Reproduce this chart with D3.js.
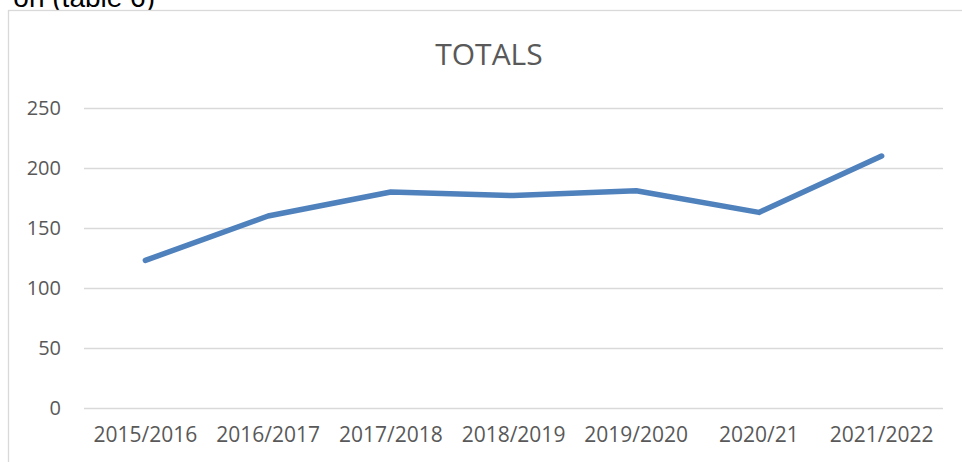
<!DOCTYPE html>
<html>
<head>
<meta charset="utf-8">
<script src="https://cdn.jsdelivr.net/npm/d3@7"></script>
<style>
  body { margin: 0; background: #fff; }
  svg { display: block; }
</style>
</head>
<body>
<div id="chart"></div>
<script>
// Chart data
let years = ["2015/2016", "2016/2017", "2017/2018", "2018/2019", "2019/2020", "2020/21", "2021/2022"];
let totals = [123, 160, 180, 177, 181, 163, 210];
let yTicks = [0, 50, 100, 150, 200, 250];

var width = 962;
var height = 462;

// plot area inside the chart frame
var plot = { left: 84, right: 943, top: 108, bottom: 408 };

var svg = d3.select("#chart")
    .append("svg")
    .attr("width", width)
    .attr("height", height);

// cut off text from the document above the chart
svg.append("text")
    .attr("x", 155)
    .attr("y", 7)
    .attr("text-anchor", "end")
    .style("font-family", "Liberation Sans, Arial, sans-serif")
    .style("font-size", "28px")
    .attr("fill", "#000")
    .text("on (table 6)");

// chart frame
svg.append("rect")
    .attr("x", 8.5)
    .attr("y", 10.5)
    .attr("width", 970)
    .attr("height", 470)
    .attr("fill", "#fff")
    .attr("stroke", "#d9d9d9")
    .attr("stroke-width", 1.3);

// Scales
var x = d3.scaleBand()
    .domain(years)
    .range([plot.left, plot.right]);

var y = d3.scaleLinear()
    .domain([0, 250])
    .range([plot.bottom, plot.top]);

// Gridlines
svg.append("g")
    .selectAll("line")
    .data(yTicks)
    .enter()
    .append("line")
    .attr("x1", plot.left)
    .attr("x2", plot.right)
    .attr("y1", d => Math.round(y(d)) + 0.5)
    .attr("y2", d => Math.round(y(d)) + 0.5)
    .attr("stroke", "#d9d9d9")
    .attr("stroke-width", 1.3);

// Y axis labels
var yAxis = d3.axisLeft(y)
    .tickValues(yTicks)
    .tickSize(0)
    .tickPadding(23);

var yG = svg.append("g")
    .attr("transform", "translate(" + plot.left + ",0)")
    .call(yAxis);
yG.select(".domain").remove();
yG.selectAll("text")
    .style("font-family", "Open Sans, sans-serif")
    .style("font-size", "20px")
    .attr("fill", "#595959");

// X axis labels
var xAxis = d3.axisBottom(x)
    .tickSize(0)
    .tickPadding(19);

var xG = svg.append("g")
    .attr("transform", "translate(0," + plot.bottom + ")")
    .call(xAxis);
xG.select(".domain").remove();
xG.selectAll("text")
    .style("font-family", "Open Sans, sans-serif")
    .style("font-size", "21px")
    .attr("fill", "#595959");

// Title
svg.append("text")
    .attr("x", 489)
    .attr("y", 65)
    .attr("text-anchor", "middle")
    .style("font-family", "Open Sans, sans-serif")
    .style("font-size", "30px")
    .attr("fill", "#595959")
    .text("TOTALS");

// Line
var line = d3.line()
    .x((d, i) => x(years[i]) + x.bandwidth() / 2)
    .y(d => y(d));

svg.append("path")
    .datum(totals)
    .attr("d", line)
    .attr("fill", "none")
    .attr("stroke", "#4f81bd")
    .attr("stroke-width", 5.5)
    .attr("stroke-linecap", "round")
    .attr("stroke-linejoin", "round");
</script>
</body>
</html>
